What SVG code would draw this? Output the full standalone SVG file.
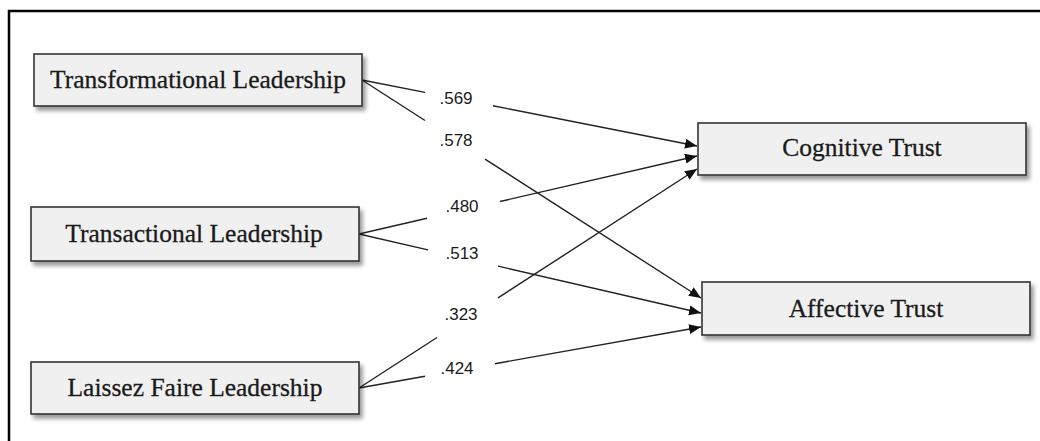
<svg xmlns="http://www.w3.org/2000/svg" width="1040" height="441" viewBox="0 0 1040 441">
  <defs>
    <filter id="shadow" x="-5%" y="-20%" width="115%" height="150%">
      <feDropShadow dx="3" dy="4" stdDeviation="2" flood-color="#000" flood-opacity="0.4"/>
    </filter>
    <marker id="arrow" markerUnits="userSpaceOnUse" markerWidth="13" markerHeight="11" refX="12" refY="5" orient="auto">
      <path d="M0,0 L12,5 L0,10 z" fill="#111"/>
    </marker>
  </defs>
  <style>
    .box { fill: #f0f0f0; stroke: #333; stroke-width: 1.6; filter: url(#shadow); }
    .ntext { font-family: "Liberation Serif", "Times New Roman", serif; font-size: 25.5px; fill: #1a1a1a; stroke: #1a1a1a; stroke-width: 0.3; text-anchor: middle; }
    .edge { stroke: #222; stroke-width: 1.4; fill: none; }
    .head { marker-end: url(#arrow); }
    .lbl { font-family: "Liberation Sans", Arial, sans-serif; font-size: 17px; fill: #1a1a1a; text-anchor: middle; }
    .frame { fill: none; stroke: #000; stroke-width: 2.5; }
  </style>
  <rect width="1040" height="441" fill="#fff"/>
  <path class="frame" d="M9,445 L9,11 L1045,11"/>

  <g id="connectors">
    <line class="edge" x1="362" y1="80" x2="425" y2="92.4"/>
    <line class="edge head" x1="493" y1="105.8" x2="697" y2="146"/>
    <line class="edge" x1="362" y1="80" x2="425" y2="120.5"/>
    <line class="edge head" x1="485" y1="159.1" x2="701" y2="298"/>
    <line class="edge" x1="359" y1="234" x2="427" y2="218.3"/>
    <line class="edge head" x1="500" y1="201.5" x2="697" y2="156"/>
    <line class="edge" x1="359" y1="234" x2="428" y2="249.9"/>
    <line class="edge head" x1="498" y1="266.1" x2="701" y2="313"/>
    <line class="edge" x1="359" y1="388" x2="437" y2="337.5"/>
    <line class="edge head" x1="498" y1="297.9" x2="697" y2="169"/>
    <line class="edge" x1="359" y1="388" x2="425" y2="376.2"/>
    <line class="edge head" x1="495" y1="363.7" x2="701" y2="327"/>
    <text class="lbl" x="456" y="104">.569</text>
    <text class="lbl" x="456" y="146">.578</text>
    <text class="lbl" x="462" y="212">.480</text>
    <text class="lbl" x="462" y="259">.513</text>
    <text class="lbl" x="461" y="320">.323</text>
    <text class="lbl" x="457" y="374">.424</text>
  </g>

  <g id="transformational">
    <rect class="box" x="34" y="54" width="328" height="52"/>
    <text class="ntext" x="198" y="88">Transformational Leadership</text>
  </g>
  <g id="transactional">
    <rect class="box" x="31" y="207" width="328" height="54"/>
    <text class="ntext" x="194" y="242">Transactional Leadership</text>
  </g>
  <g id="laissez">
    <rect class="box" x="31" y="362" width="328" height="52"/>
    <text class="ntext" x="195" y="396">Laissez Faire Leadership</text>
  </g>
  <g id="cognitive">
    <rect class="box" x="698" y="123" width="328" height="52"/>
    <text class="ntext" x="862" y="156">Cognitive Trust</text>
  </g>
  <g id="affective">
    <rect class="box" x="702" y="282" width="328" height="53"/>
    <text class="ntext" x="866" y="317">Affective Trust</text>
  </g>
</svg>
